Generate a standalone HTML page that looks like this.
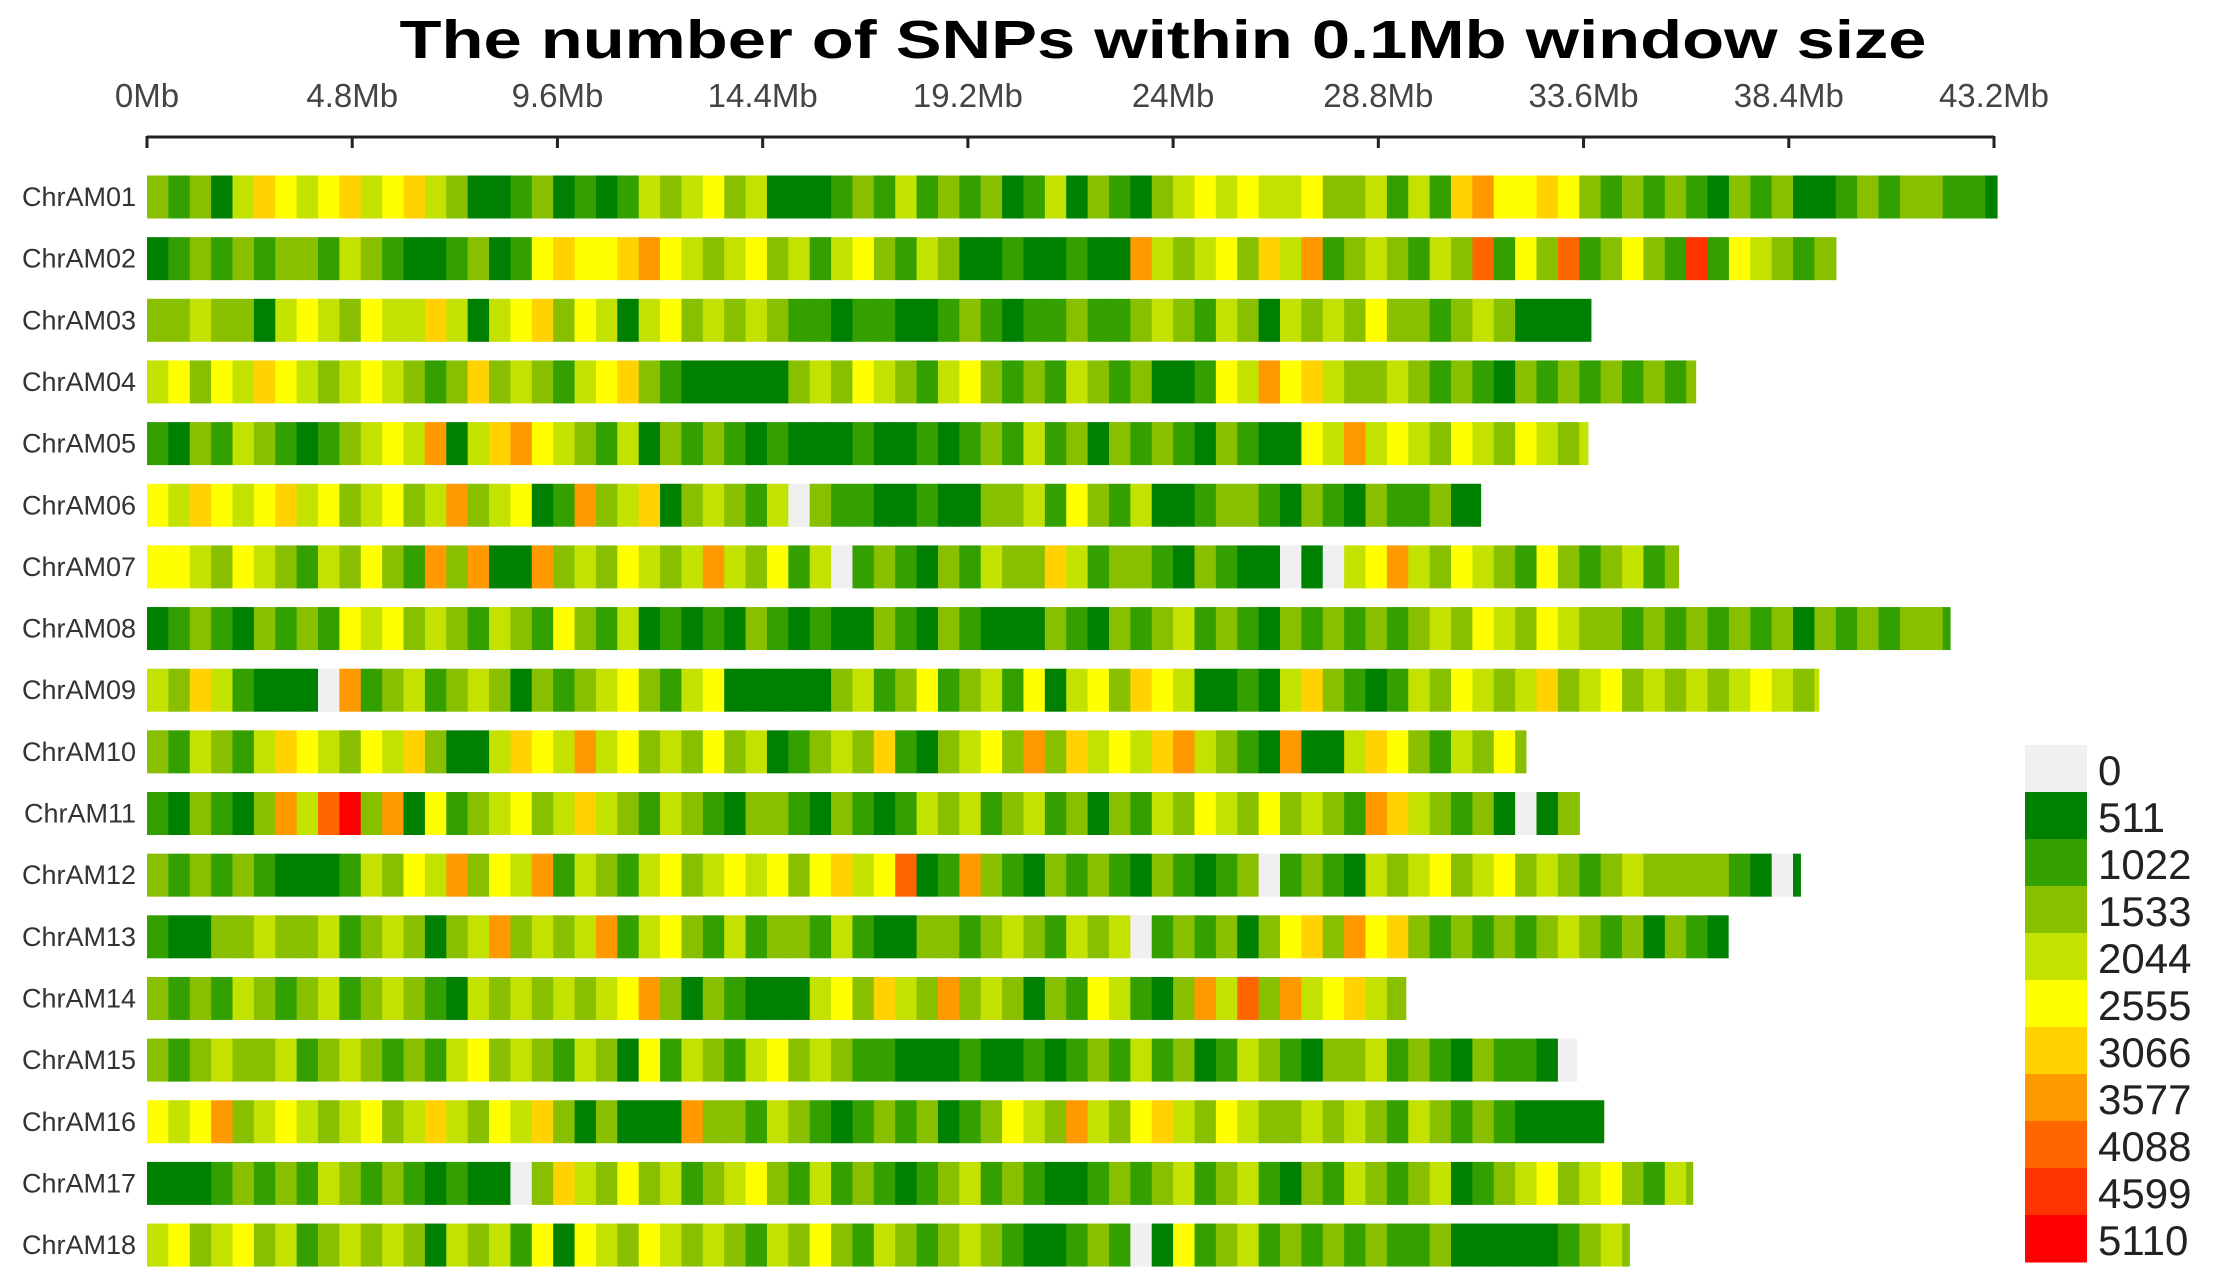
<!DOCTYPE html>
<html><head><meta charset="utf-8"><style>
html,body{margin:0;padding:0;background:#fff;}
svg{display:block;font-family:"Liberation Sans",sans-serif;}
</style></head><body>
<svg id="chart" width="2217" height="1288" viewBox="0 0 2217 1288" xmlns="http://www.w3.org/2000/svg">
<text x="1163" y="58" text-anchor="middle" font-size="54" font-weight="bold" textLength="1527" lengthAdjust="spacingAndGlyphs" fill="#000">The number of SNPs within 0.1Mb window size</text>
<g id="axis"></g>
<g id="rows"></g>
<g id="legend"></g>
</svg>
<script>
const chromNames = ["ChrAM01","ChrAM02","ChrAM03","ChrAM04","ChrAM05","ChrAM06","ChrAM07","ChrAM08","ChrAM09","ChrAM10","ChrAM11","ChrAM12","ChrAM13","ChrAM14","ChrAM15","ChrAM16","ChrAM17","ChrAM18"];
const chromLengths = [43.27,39.56,33.77,36.22,33.7,31.19,35.82,42.17,39.1,32.25,33.6,38.67,36.98,29.44,33.44,34.07,36.15,34.67];
const windowSize = 0.5;
const densityLevels = [
"323146545645643112312124345341112324232312413213454544533424267556532323213231123233221",
"1232323324321123125655675434534245324311211211743453647234324382538235329254323",
"33433145435446414563541453434322122112321223223432431434353323431111",
"4535465434543236343245632111113435432453232432311254756433432321323232323",
"21324321234547146754324132321211121121232423132321321154745435435434343",
"546545645345347345127346134324032211211334253241123321321322311",
"554354324353273711734354347435240232132433642332132110104574354325323423",
"1232132325453432432532412121321211321321113213234232132323234354354332323232313232332111",
"43642111072342343132345324511111342352342514536541121463212435434634534343454343",
"32432465435463114654745343534123436213453736454674321711465324353",
"213213748A371523453464324321332132124342342313243543534327643231013",
"323232111243547354724324534545356458127321323213212302321434534534323433332101",
"211334334234313473434724532423324211332343243402323135637563232323432313212",
"32324323423432143434345731321114536437343132542137483745643",
"3234334234323245343243152432453432211121121232423124321334232132210",
"545734543453464354631311173324321232312354374356435433434324323211111",
"1112323243232121103643534234532423212342321123234234213243234123453453243",
"4534534234343143425154354343243532432343211232015234232323223111112343"];
const legendValues = [0,511,1022,1533,2044,2555,3066,3577,4088,4599,5110];
const legendColors = ["#f0f0f0","#008000","#33a000","#88c000","#c4e200","#ffff00","#ffd200","#ff9900","#ff6600","#ff3300","#ff0000"];
const tickValues = [0,4.8,9.6,14.4,19.2,24,28.8,33.6,38.4,43.2];
const tickLabels = ["0Mb","4.8Mb","9.6Mb","14.4Mb","19.2Mb","24Mb","28.8Mb","33.6Mb","38.4Mb","43.2Mb"];

const NS="http://www.w3.org/2000/svg";
const X0=147, X1=1994, MAXMB=43.2;
function xScale(mb){return X0+(X1-X0)*mb/MAXMB;}
function rowCenter(i){return 197+61.65*i;}
function colorFor(v){let idx=Math.round(v/511);if(idx<0)idx=0;if(idx>10)idx=10;return legendColors[idx];}
function mk(tag,attrs,parent){const e=document.createElementNS(NS,tag);for(const k in attrs)e.setAttribute(k,attrs[k]);parent.appendChild(e);return e;}

const axis=document.getElementById('axis');
const axLine=mk('line',{x1:xScale(0),x2:xScale(MAXMB),y1:137,y2:137,stroke:'#222','stroke-width':3},axis);


tickValues.forEach((t,i)=>{
  const tk=mk('line',{x1:xScale(t),x2:xScale(t),y1:136,y2:148,stroke:'#222','stroke-width':3},axis);
  
  
  const tl=mk('text',{x:xScale(t),y:107,'text-anchor':'middle','font-size':33,fill:'#444'},axis);
  tl.textContent=tickLabels[i];
  
  
});

const rows=document.getElementById('rows');
chromNames.forEach((name,i)=>{
  const g=mk('g',{},rows);
  
  
  const cy=rowCenter(i);
  const lb=mk('text',{x:136,y:cy+9,'text-anchor':'end','font-size':27,fill:'#333'},g);
  lb.textContent=name;
  
  
  const vals=densityLevels[i].split('').map(c=>parseInt(c,16)*511);
  const len=chromLengths[i];
  vals.forEach((v,j)=>{
    const s=j*windowSize; if(s>=len)return;
    const e=Math.min(len,s+windowSize);
    const r=mk('rect',{x:xScale(s),y:cy-21.5,width:xScale(e)-xScale(s)+0.6,height:43,fill:colorFor(v)},g);
    
    
  });
});

const leg=document.getElementById('legend');
legendValues.forEach((v,i)=>{
  const y=745+47*i;
  const r=mk('rect',{x:2025,y:y,width:62,height:47.5,fill:legendColors[i]},leg);
  
  
  const t=mk('text',{x:2098,y:y+40,'font-size':42,fill:'#222'},leg);
  t.textContent=v;
  
  
});
</script>
</body></html>
